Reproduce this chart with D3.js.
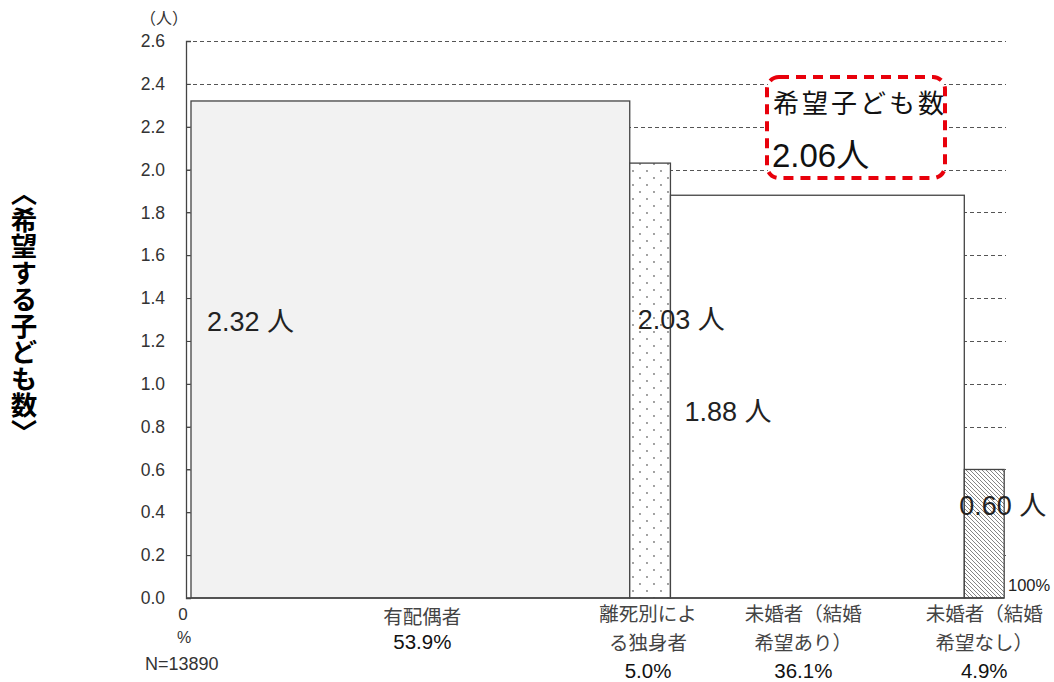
<!DOCTYPE html>
<html><head><meta charset="utf-8">
<script src="https://cdn.jsdelivr.net/npm/d3@7"></script>
<style>body{margin:0;background:#fff}svg{display:block}</style>
</head><body>
<script>
// ---- data ----
const categories = ["有配偶者", "離死別による独身者", "未婚者（結婚希望あり）", "未婚者（結婚希望なし）"];
const categoryLines = [["有配偶者"], ["離死別によ", "る独身者"], ["未婚者（結婚", "希望あり）"], ["未婚者（結婚", "希望なし）"]];
const shares = [53.9, 5.0, 36.1, 4.9];          // % of respondents (bar widths)
const desiredChildren = [2.32, 2.03, 1.88, 0.60]; // 人 (bar heights)
const yTicks = [0, 0.2, 0.4, 0.6, 0.8, 1.0, 1.2, 1.4, 1.6, 1.8, 2.0, 2.2, 2.4, 2.6];
const overallValue = 2.06;
const sampleSize = 13890;

// ---- layout ----
const W = 1054, H = 682;
const FONT = "'Liberation Sans', Arial, 'Noto Sans CJK JP', sans-serif";
const JP = "'Noto Sans CJK JP', 'Liberation Sans', sans-serif";
const svg = d3.select("body").append("svg").attr("width", W).attr("height", H);

const x = d3.scaleLinear().domain([0, 100]).range([191, 1005]);
const y = d3.scaleLinear().domain([0, 2.6]).range([598, 41]);
const axisX = 186, gridEnd = 1006;

const defs = svg.append("defs");
const dots = defs.append("pattern").attr("id", "dots").attr("patternUnits", "userSpaceOnUse")
  .attr("width", 14).attr("height", 14);
dots.append("rect").attr("width", 14).attr("height", 14).attr("fill", "#fff");
[[3, 3], [10, 10]].forEach(([cx, cy]) => dots.append("circle").attr("cx", cx).attr("cy", cy).attr("r", 0.9).attr("fill", "#777"));
const hatch = defs.append("pattern").attr("id", "hatch").attr("patternUnits", "userSpaceOnUse")
  .attr("width", 4).attr("height", 4);
hatch.append("rect").attr("width", 4).attr("height", 4).attr("fill", "#fff");
hatch.append("path").attr("d", "M-1,-1 L5,5 M-1,3 L1,5 M3,-1 L5,1").attr("stroke", "#666").attr("stroke-width", 0.8);
const fills = ["#f2f2f2", "url(#dots)", "#ffffff", "url(#hatch)"];

// gridlines
svg.append("g").selectAll("line").data(yTicks.filter(d => d > 0)).join("line")
  .attr("x1", axisX).attr("x2", gridEnd).attr("y1", d => Math.round(y(d)) + 0.5).attr("y2", d => Math.round(y(d)) + 0.5)
  .attr("stroke", "#555").attr("stroke-width", 1).attr("stroke-dasharray", "4,3");

// bars
const starts = shares.map((s, i) => d3.sum(shares.slice(0, i)));
const bars = categories.map((c, i) => ({ c, share: shares[i], start: starts[i], v: desiredChildren[i], i }));
svg.append("g").selectAll("rect").data(bars).join("rect")
  .attr("x", d => x(d.start)).attr("width", d => x(d.start + d.share) - x(d.start))
  .attr("y", d => y(d.v)).attr("height", d => y(0) - y(d.v))
  .attr("fill", d => fills[d.i]).attr("stroke", "#444").attr("stroke-width", 1.3);

// y axis
const yAxis = d3.axisRight(y).tickValues(yTicks).tickSize(5).tickFormat("");
const ga = svg.append("g").attr("transform", `translate(${axisX},0)`).call(yAxis);
ga.select(".domain").attr("stroke", "#444").attr("stroke-width", 1.3);
ga.selectAll(".tick line").attr("stroke", "#444");
svg.append("g").selectAll("text").data(yTicks).join("text")
  .attr("x", 165).attr("y", d => y(d)).attr("dy", "0.35em").attr("text-anchor", "end")
  .attr("font-family", FONT).attr("font-size", 17.5).attr("fill", "#333").text(d => d.toFixed(1));
// x baseline
svg.append("line").attr("x1", axisX).attr("x2", x(d3.sum(shares))).attr("y1", y(0)).attr("y2", y(0))
  .attr("stroke", "#444").attr("stroke-width", 1.3);

// unit
svg.append("text").attr("x", 164).attr("y", 24).attr("text-anchor", "middle").attr("font-family", JP)
  .attr("font-size", 16).attr("fill", "#333").text("（人）");

// y title (vertical)
svg.append("text").attr("x", 24).attr("y", 180).attr("writing-mode", "vertical-rl")
  .attr("font-family", JP).attr("font-weight", "bold").attr("font-size", 26.5).attr("fill", "#000")
  .attr("letter-spacing", 0)
  .text("︿希望する子ども数﹀");

// value labels
const valOffsets = [[16, 322], [8, 320], [14, 412], [-5, 506]];
svg.append("g").selectAll("text").data(bars).join("text")
  .attr("x", d => x(d.start) + valOffsets[d.i][0]).attr("y", d => valOffsets[d.i][1]).attr("dy", "0.35em")
  .attr("font-family", FONT).attr("font-size", 27).attr("fill", "#222")
  .text(d => d.v.toFixed(2) + " 人");

// category labels
const catG = svg.append("g");
bars.forEach(d => {
  const cx = x(d.start + d.share / 2) + [12, -2, -14, 0][d.i];
  const lines = categoryLines[d.i];
  const y0 = lines.length > 1 ? 614.5 : 617;
  lines.forEach((s, k) => {
    catG.append("text").attr("x", cx).attr("y", y0 + k * 28.5).attr("dy", "0.35em").attr("text-anchor", "middle")
      .attr("font-family", JP).attr("font-size", 19.5).attr("fill", "#444").text(s);
  });
  catG.append("text").attr("x", cx).attr("y", lines.length > 1 ? 671 : 642).attr("dy", "0.35em")
    .attr("text-anchor", "middle").attr("font-family", FONT).attr("font-size", 20.5).attr("fill", "#111")
    .text(d.share.toFixed(1) + "%");
});

// axis end labels
svg.append("text").attr("x", 183).attr("y", 614).attr("dy", "0.35em").attr("text-anchor", "middle")
  .attr("font-family", FONT).attr("font-size", 17).attr("fill", "#333").text("0");
svg.append("text").attr("x", 184).attr("y", 637).attr("dy", "0.35em").attr("text-anchor", "middle")
  .attr("font-family", FONT).attr("font-size", 16).attr("fill", "#333").text("%");
svg.append("text").attr("x", 145).attr("y", 664).attr("dy", "0.35em")
  .attr("font-family", FONT).attr("font-size", 18).attr("fill", "#333").text("N=" + sampleSize);
svg.append("text").attr("x", 1008).attr("y", 585).attr("dy", "0.35em")
  .attr("font-family", FONT).attr("font-size", 16.5).attr("fill", "#222").text("100%");

// annotation box
svg.append("rect").attr("x", 767).attr("y", 77).attr("width", 178).attr("height", 101).attr("rx", 12)
  .attr("fill", "#fff").attr("stroke", "#e8000b").attr("stroke-width", 4).attr("stroke-dasharray", "10,7");
svg.append("text").attr("x", 773).attr("y", 104).attr("dy", "0.35em").attr("font-family", JP)
  .attr("font-size", 26).attr("letter-spacing", 3).attr("fill", "#111").text("希望子ども数");
svg.append("text").attr("x", 772).attr("y", 155).attr("dy", "0.35em").attr("font-family", FONT)
  .attr("font-size", 33).attr("fill", "#111").text(overallValue.toFixed(2) + "人");
</script>
</body></html>
